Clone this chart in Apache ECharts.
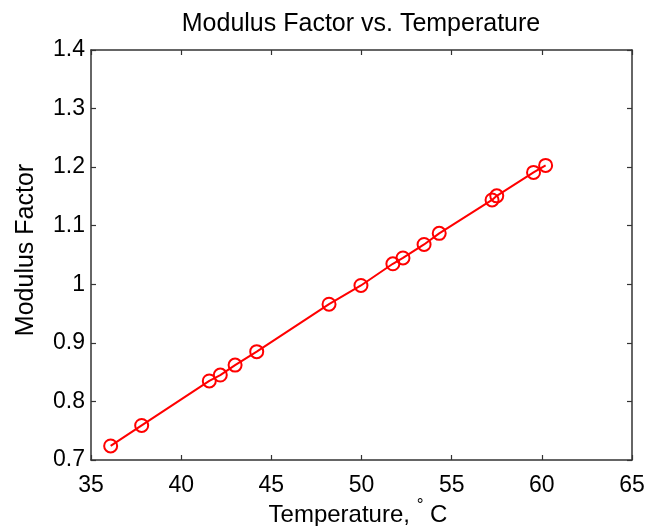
<!DOCTYPE html>
<html>
<head>
<meta charset="utf-8">
<script src="https://cdn.jsdelivr.net/npm/echarts@6/dist/echarts.min.js"></script>
<style>html,body{margin:0;padding:0;background:#fff;}#c{width:657px;height:526px;}</style>
</head>
<body>
<div id="c"></div>
<script>
const temperature = [36.09, 37.81, 41.56, 42.17, 42.99, 44.19, 48.2, 49.97, 51.74, 52.3, 53.47, 54.31, 57.24, 57.5, 59.54, 60.21];
const modulusFactor = [0.724, 0.759, 0.835, 0.845, 0.862, 0.885, 0.966, 0.998, 1.035, 1.045, 1.068, 1.087, 1.144, 1.151, 1.191, 1.203];
const xTicks = [35, 40, 45, 50, 55, 60, 65];
const yTicks = [0.7, 0.8, 0.9, 1, 1.1, 1.2, 1.3, 1.4];

const FONT = '"Liberation Sans", Arial, sans-serif';
const lineCol = '#333333';
const chart = echarts.init(document.getElementById('c'), null, {renderer: 'canvas'});
const axisCommon = {
  axisLine: {show: true, lineStyle: {color: lineCol, width: 1.5}},
  axisTick: {show: true, inside: true, length: 5, lineStyle: {color: lineCol, width: 1.2}},
  splitLine: {show: false}
};
chart.setOption({
  animation: false,
  backgroundColor: '#fff',
  title: [{
    text: 'Modulus Factor vs. Temperature',
    left: 356, top: 7, textAlign: 'center',
    textStyle: {fontFamily: FONT, fontSize: 25, fontWeight: 'normal', color: '#000'}
  }, {
    text: '{a|Temperature, }{s|°}{a| C}',
    left: 358, top: 497, textAlign: 'center', padding: 0,
    textStyle: {
      fontWeight: 'normal',
      rich: {
        a: {fontFamily: FONT, fontSize: 24, fontWeight: 'normal', color: '#000', lineHeight: 30, verticalAlign: 'bottom'},
        s: {fontFamily: FONT, fontSize: 17, fontWeight: 'normal', color: '#000', lineHeight: 30, verticalAlign: 'top'}
      }
    }
  }],
  grid: {left: 91, right: 25, top: 50, bottom: 66, containLabel: false, outerBoundsMode: 'none'},
  xAxis: [
    Object.assign({
      type: 'value', min: xTicks[0], max: xTicks[xTicks.length - 1], interval: 5, position: 'bottom',
      axisLabel: {fontFamily: FONT, fontSize: 23, color: '#000', margin: 14}
    }, axisCommon),
    Object.assign({
      type: 'value', min: xTicks[0], max: xTicks[xTicks.length - 1], interval: 5, position: 'top',
      axisLabel: {show: false}
    }, axisCommon)
  ],
  yAxis: [
    Object.assign({
      type: 'value', min: yTicks[0], max: yTicks[yTicks.length - 1], interval: 0.1, position: 'left',
      axisLabel: {fontFamily: FONT, fontSize: 23, color: '#000', margin: 6,
        formatter: v => String(Math.round(v * 10) / 10)},
      name: 'Modulus Factor', nameLocation: 'middle', nameGap: 52, nameRotate: 90,
      nameTextStyle: {fontFamily: FONT, fontSize: 25, color: '#000', padding: [0, 0, 0, 10]}
    }, axisCommon),
    Object.assign({
      type: 'value', min: yTicks[0], max: yTicks[yTicks.length - 1], interval: 0.1, position: 'right',
      axisLabel: {show: false}
    }, axisCommon)
  ],
  series: [{
    type: 'line',
    data: temperature.map((t, i) => [t, modulusFactor[i]]),
    xAxisIndex: 0, yAxisIndex: 0,
    symbol: 'circle', symbolSize: 13, showAllSymbol: true,
    lineStyle: {color: '#ff0000', width: 2},
    itemStyle: {color: 'rgba(255,0,0,0)', borderColor: '#ff0000', borderWidth: 2},
    emphasis: {disabled: true}
  }]
});
</script>
</body>
</html>
